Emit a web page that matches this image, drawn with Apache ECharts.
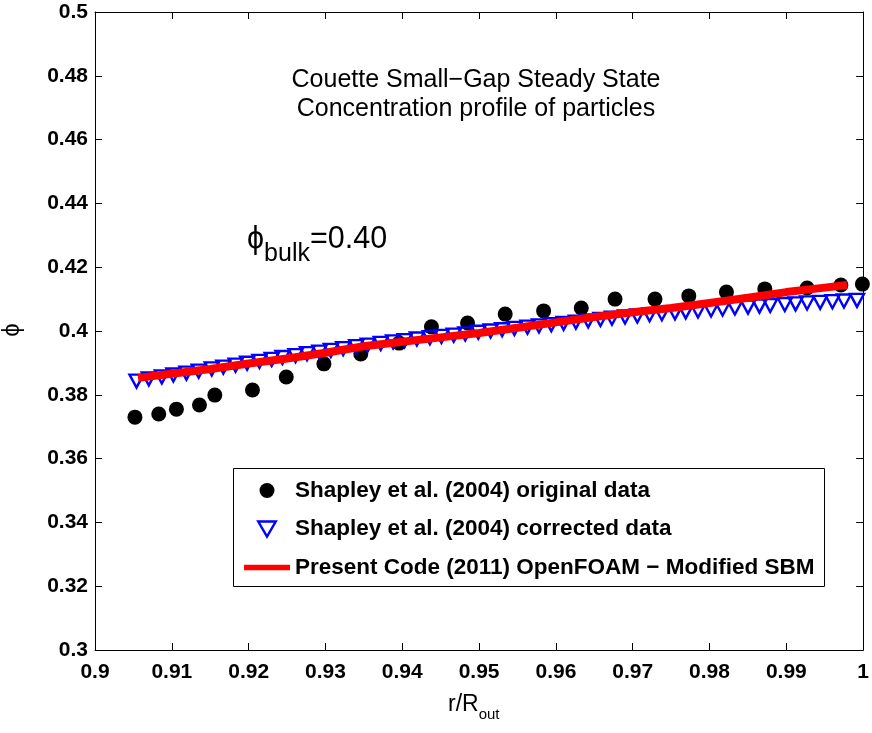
<!DOCTYPE html>
<html>
<head>
<meta charset="utf-8">
<script src="https://cdn.jsdelivr.net/npm/echarts@6/dist/echarts.min.js"></script>
<style>
html,body{margin:0;padding:0;background:#fff;}
#chart{width:872px;height:733px;}
</style>
</head>
<body>
<div id="chart"></div>
<script>
// ---- data ----
var seriesNames = [
  'Shapley et al. (2004) original data',
  'Shapley et al. (2004) corrected data',
  'Present Code (2011) OpenFOAM \u2212 Modified SBM'
];
var origX = [0.9052,0.9083,0.9106,0.9136,0.9156,0.9205,0.9249,0.9298,0.9346,0.9396,0.9438,0.9485,0.9534,0.9584,0.9633,0.9677,0.9729,0.9773,0.9822,0.9872,0.9927,0.9971,0.9999];
var origY = [0.3730,0.3740,0.3755,0.3768,0.3799,0.3815,0.3856,0.3897,0.3928,0.3962,0.4013,0.4025,0.4053,0.4063,0.4072,0.4100,0.4100,0.4110,0.4122,0.4132,0.4135,0.4144,0.4147];
var corrX = [0.9054,0.9070,0.9087,0.9102,0.9119,0.9135,0.9152,0.9167,0.9183,0.9198,0.9214,0.9230,0.9244,0.9261,0.9276,0.9292,0.9307,0.9323,0.9340,0.9355,0.9372,0.9388,0.9403,0.9419,0.9436,0.9451,0.9467,0.9482,0.9499,0.9515,0.9530,0.9546,0.9563,0.9578,0.9594,0.9610,0.9626,0.9642,0.9658,0.9673,0.9690,0.9706,0.9722,0.9738,0.9755,0.9769,0.9785,0.9802,0.9817,0.9833,0.9850,0.9865,0.9879,0.9898,0.9912,0.9927,0.9944,0.9960,0.9975,0.9992];
var corrY = [0.3843,0.3850,0.3856,0.3862,0.3868,0.3874,0.3881,0.3887,0.3893,0.3899,0.3905,0.3911,0.3917,0.3923,0.3929,0.3934,0.3939,0.3945,0.3951,0.3956,0.3961,0.3966,0.3970,0.3975,0.3979,0.3983,0.3987,0.3991,0.3996,0.4000,0.4004,0.4008,0.4012,0.4016,0.4020,0.4024,0.4028,0.4032,0.4036,0.4040,0.4044,0.4047,0.4051,0.4054,0.4057,0.4060,0.4063,0.4066,0.4069,0.4072,0.4075,0.4078,0.4080,0.4083,0.4085,0.4088,0.4090,0.4092,0.4094,0.4096];
var simX = [0.9056,0.9100,0.9150,0.9200,0.9250,0.9300,0.9350,0.9400,0.9450,0.9500,0.9550,0.9600,0.9650,0.9700,0.9750,0.9800,0.9850,0.9900,0.9950,0.9979];
var simY = [0.3853,0.3866,0.3881,0.3898,0.3914,0.3932,0.3952,0.3966,0.3980,0.3994,0.4010,0.4027,0.4044,0.4059,0.4072,0.4088,0.4104,0.4122,0.4136,0.4144];
var xTickLabels = ['0.9','0.91','0.92','0.93','0.94','0.95','0.96','0.97','0.98','0.99','1'];
var yTickLabels = ['0.3','0.32','0.34','0.36','0.38','0.4','0.42','0.44','0.46','0.48','0.5'];
var titleLines = ['Couette Small\u2212Gap Steady State', 'Concentration profile of particles'];
var bulkLabel = {sym: '\u03d5', sub: 'bulk', val: '=0.40'};
var xName = {main: 'r/R', sub: 'out'};
var yName = '\u03d5';

// ---- chart ----
var FONT = '"Liberation Sans", Arial, Helvetica, sans-serif';
function zip(a, b) { return a.map(function (v, i) { return [v, b[i]]; }); }
var X_MIN = 0.9, X_MAX = 1.0, X_INT = 0.01;
var Y_MIN = 0.3, Y_MAX = 0.5, Y_INT = 0.02;

var axisCommon = {
  axisLine: {show: true, lineStyle: {color: '#000', width: 1}},
  axisTick: {show: true, inside: true, length: 7, lineStyle: {color: '#000', width: 1}},
  splitLine: {show: false}
};

var chart = echarts.init(document.getElementById('chart'), null, {renderer: 'canvas'});
chart.setOption({
  animation: false,
  backgroundColor: '#fff',
  grid: {left: 95, right: 6, top: 12, bottom: 83, containLabel: false},
  xAxis: [
    Object.assign({}, axisCommon, {
      type: 'value', min: X_MIN, max: X_MAX, interval: X_INT, position: 'bottom',
      axisLabel: {show: true, margin: 12, color: '#000', fontFamily: FONT, fontWeight: 'bold', fontSize: 21,
        formatter: function (v) { return xTickLabels[Math.round((v - X_MIN) / X_INT)]; }}
    }),
    Object.assign({}, axisCommon, {
      type: 'value', min: X_MIN, max: X_MAX, interval: X_INT, position: 'top',
      axisLabel: {show: false}
    })
  ],
  yAxis: [
    Object.assign({}, axisCommon, {
      type: 'value', min: Y_MIN, max: Y_MAX, interval: Y_INT, position: 'left',
      axisLabel: {show: true, margin: 7, color: '#000', fontFamily: FONT, fontWeight: 'bold', fontSize: 21,
        padding: [7, 0, 0, 0],
        formatter: function (v) { return yTickLabels[Math.round((v - Y_MIN) / Y_INT)]; }}
    }),
    Object.assign({}, axisCommon, {
      type: 'value', min: Y_MIN, max: Y_MAX, interval: Y_INT, position: 'right',
      axisLabel: {show: false}
    })
  ],
  legend: {
    orient: 'vertical', left: 244, top: 479, padding: 0,
    itemWidth: 46, itemHeight: 15, itemGap: 15.5,
    symbolKeepAspect: true,
    selectedMode: false, z: 20,
    textStyle: {color: '#000', fontFamily: FONT, fontWeight: 'bold', fontSize: 22.5},
    data: [
      {name: seriesNames[0], icon: 'circle', itemStyle: {color: '#000', opacity: 1}},
      {name: seriesNames[1], icon: 'path://M0,0L14,0L7,12Z',
        itemStyle: {color: 'rgba(255,255,255,0)', borderColor: '#0000ff', borderWidth: 2.4, opacity: 1}},
      {name: seriesNames[2], icon: 'path://M0,0L46,0L46,5.5L0,5.5Z',
        itemStyle: {color: '#ff0000', borderWidth: 0, opacity: 1}}
    ]
  },
  graphic: [
    {type: 'rect', z: 15, shape: {x: 233.5, y: 468.5, width: 591, height: 118},
      style: {fill: '#fff', stroke: '#000', lineWidth: 1}},
    {type: 'text', z: 5, x: 476, y: 66,
      style: {text: titleLines.join('\n'), fill: '#000', font: '25px ' + FONT, lineHeight: 29,
        align: 'center', verticalAlign: 'top'}},
    {type: 'text', z: 5, x: 247, y: 213,
      style: {
        text: '{p|' + bulkLabel.sym + '}{s|' + bulkLabel.sub + '}{p|' + bulkLabel.val + '}',
        rich: {
          p: {fontSize: 30.5, fontFamily: FONT, fill: '#000', lineHeight: 54, verticalAlign: 'middle'},
          s: {fontSize: 25, fontFamily: FONT, fill: '#000', lineHeight: 25, verticalAlign: 'bottom'}
        }
      }},
    {type: 'text', z: 5, x: 448, y: 688,
      style: {
        text: '{p|' + xName.main + '}{s|' + xName.sub + '}',
        rich: {
          p: {fontSize: 23, fontFamily: FONT, fill: '#000', lineHeight: 34, verticalAlign: 'middle'},
          s: {fontSize: 15, fontFamily: FONT, fill: '#000', lineHeight: 15, verticalAlign: 'bottom'}
        }
      }},
    {type: 'text', z: 5, x: 12, y: 330, rotation: Math.PI / 2,
      style: {text: yName, fill: '#000', font: '24px ' + FONT, align: 'center', verticalAlign: 'middle'}}
  ],
  series: [
    {
      name: seriesNames[0], type: 'scatter', data: zip(origX, origY),
      symbol: 'circle', symbolSize: 15,
      itemStyle: {color: '#000', opacity: 1}, emphasis: {disabled: true}, z: 2
    },
    {
      name: seriesNames[1], type: 'scatter', data: zip(corrX, corrY),
      symbol: 'triangle', symbolRotate: 180, symbolSize: [14, 13],
      itemStyle: {color: 'rgba(255,255,255,0)', borderColor: '#0000ff', borderWidth: 2.4, opacity: 1},
      emphasis: {disabled: true}, z: 3
    },
    {
      name: seriesNames[2], type: 'line', data: zip(simX, simY),
      symbol: 'none', showSymbol: false,
      lineStyle: {color: '#ff0000', width: 8}, itemStyle: {color: '#ff0000'},
      emphasis: {disabled: true}, z: 4
    }
  ]
});
</script>
</body>
</html>
